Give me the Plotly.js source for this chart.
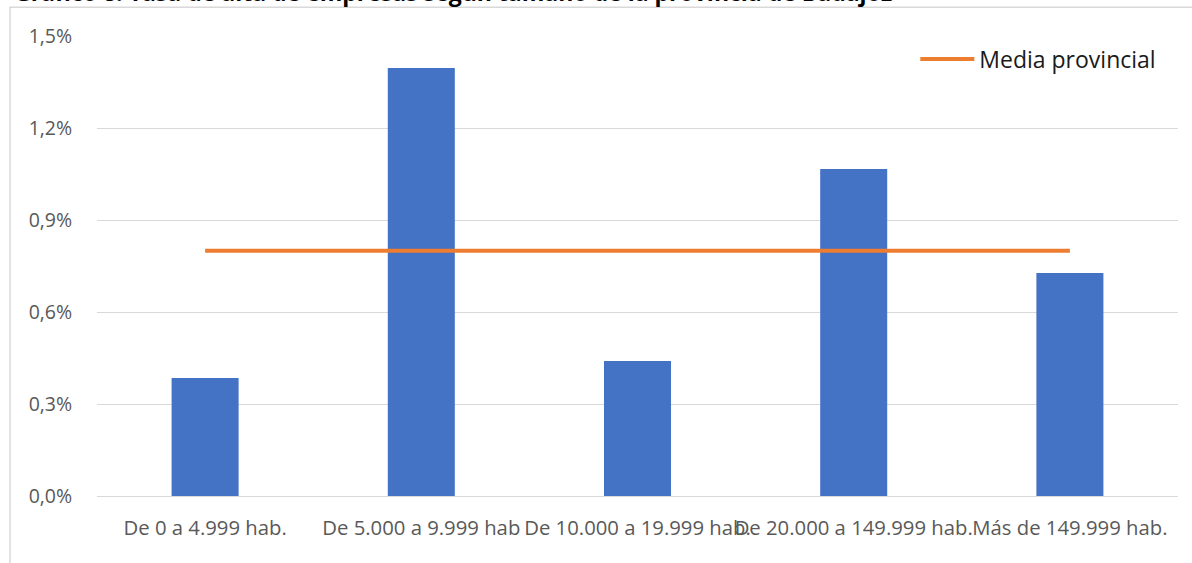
<!DOCTYPE html>
<html>
<head>
<meta charset="utf-8">
<script src="https://cdn.plot.ly/plotly-3.0.1.min.js"></script>
<style>html,body{margin:0;padding:0;background:#fff;}#chart{width:1192px;height:563px;}</style>
</head>
<body>
<div id="chart"></div>
<script>
const categories = ["De 0 a 4.999 hab.", "De 5.000 a 9.999 hab", "De 10.000 a 19.999 hab.", "De 20.000 a 149.999 hab.", "Más de 149.999 hab."];
const tasa = [0.385, 1.396, 0.44, 1.066, 0.727];
const mediaProvincial = [0.8, 0.8, 0.8, 0.8, 0.8];
const yTicks = [0, 0.3, 0.6, 0.9, 1.2, 1.5];
const yTickLabels = ["0,0%", "0,3%", "0,6%", "0,9%", "1,2%", "1,5%"];
const titleText = "Gráfico 8. Tasa de alta de empresas según tamaño de la provincia de Badajoz";

const traces = [
  {type: "bar", x: categories, y: tasa, marker: {color: "#4472C4"}, width: 0.31, showlegend: false, name: "Tasa"},
  {type: "scatter", mode: "lines", x: categories, y: mediaProvincial, line: {color: "#ED7D31", width: 4}, name: "Media provincial"}
];

const layout = {
  width: 1192, height: 563,
  margin: {l: 97, r: 14, t: 36, b: 67},
  paper_bgcolor: "#fff", plot_bgcolor: "#fff",
  font: {family: "Open Sans, sans-serif", color: "#595959", size: 19},
  xaxis: {tickangle: 0, showgrid: false, showline: false, zeroline: false, ticks: "outside", ticklen: 14, tickcolor: "rgba(0,0,0,0)", tickfont: {size: 20.3, color: "#595959"}, fixedrange: true},
  yaxis: {range: [0, 1.5], tickmode: "array", tickvals: yTicks, ticktext: yTickLabels, gridcolor: "#D9D9D9", gridwidth: 1, zeroline: true, zerolinecolor: "#D9D9D9", zerolinewidth: 1, showline: false, ticks: "outside", ticklen: 20, tickcolor: "rgba(0,0,0,0)", tickfont: {size: 19.5, color: "#595959"}},
  legend: {x: 0.757, xanchor: "left", y: 0.95, yanchor: "middle", itemwidth: 54, font: {size: 23, color: "#1a1a1a"}, bgcolor: "rgba(0,0,0,0)"},
  showlegend: true,
  shapes: [{type: "rect", xref: "paper", yref: "paper", x0: -0.0805, x1: 1.05, y0: -0.3, y1: 1.0624, line: {color: "#D9D9D9", width: 1.5}, fillcolor: "rgba(0,0,0,0)", layer: "below"}],
  annotations: [{xref: "paper", yref: "paper", x: -0.0786, y: 1.0563, xanchor: "left", yanchor: "bottom", showarrow: false, text: "<b>" + titleText + "</b>", font: {size: 23, color: "#000", family: "Open Sans, sans-serif"}}]
};

Plotly.newPlot("chart", traces, layout, {displayModeBar: false, staticPlot: true});
</script>
</body>
</html>
